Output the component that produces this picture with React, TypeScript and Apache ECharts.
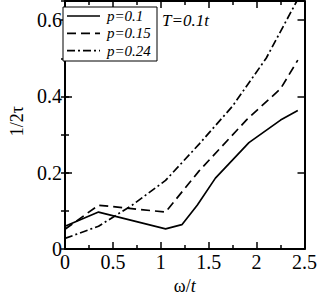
import React, { useEffect, useRef } from "react";
import * as echarts from "echarts";

const seriesNames = ["p=0.1", "p=0.15", "p=0.24"];
const p010: number[][] = [
  [0, 0.06], [0.35, 0.097], [1.05, 0.053], [1.22, 0.064], [1.38, 0.115],
  [1.57, 0.186], [1.92, 0.279], [2.25, 0.338], [2.43, 0.363],
];
const p015: number[][] = [
  [0, 0.052], [0.35, 0.115], [1.05, 0.097], [1.4, 0.205], [1.9, 0.34],
  [2.25, 0.42], [2.43, 0.495],
];
const p024: number[][] = [
  [0, 0.028], [0.35, 0.06], [0.7, 0.115], [1.05, 0.18], [1.4, 0.275],
  [1.75, 0.375], [2.1, 0.5], [2.42, 0.65],
];
const xMin = 0, xMax = 2.5, xStep = 0.5;
const yMin = 0, yMax = 0.65, yStep = 0.2, yMinorStep = 0.1;
const annotation = "T=0.1t";

const FONT = "Liberation Serif";

export default function App() {
  const ref = useRef<HTMLDivElement>(null);
  useEffect(() => {
    if (!ref.current) return;
    const chart = echarts.init(ref.current, undefined, { renderer: "svg" });
    const axisLine = { show: true, onZero: false, lineStyle: { color: "#000", width: 2 } };
    const fmtY = (v: number) => {
      const r = v / yStep;
      return Math.abs(r - Math.round(r)) < 1e-6 ? String(+v.toFixed(2)) : "";
    };
    const xCommon = {
      type: "value", min: xMin, max: xMax, interval: xStep,
      axisLine,
      axisTick: { show: true, inside: true, length: 7, lineStyle: { color: "#000", width: 1.5 } },
      minorTick: { show: true, splitNumber: 2, length: 4, lineStyle: { color: "#000", width: 1.5 } },
      splitLine: { show: false },
    };
    const yMajor = {
      type: "value", min: yMin, max: yMax, interval: yStep,
      axisLine,
      axisTick: { show: true, inside: true, length: 7, lineStyle: { color: "#000", width: 1.5 } },
      splitLine: { show: false },
    };
    const yMinor = {
      type: "value", min: yMin, max: yMax, interval: yMinorStep,
      axisLine: { show: false },
      axisTick: { show: true, inside: true, length: 4, lineStyle: { color: "#000", width: 1.5 } },
      axisLabel: { show: false },
      splitLine: { show: false },
    };
    const lineStyles: any[] = [
      { color: "#000", width: 1.7, type: "solid" },
      { color: "#000", width: 1.7, type: [9, 5] },
      { color: "#000", width: 1.7, type: [8, 3, 2, 3] },
    ];
    const datas = [p010, p015, p024];
    const legendBox = { x: 63, y: 7, w: 94, h: 54, row0: 16, rowGap: 17.3 };
    const legendGraphics: any[] = [
      {
        type: "rect", shape: { x: legendBox.x, y: legendBox.y, width: legendBox.w, height: legendBox.h },
        style: { fill: "#fff", stroke: "#000", lineWidth: 1 }, z: 100,
      },
    ];
    seriesNames.forEach((n, i) => {
      const y = legendBox.row0 + i * legendBox.rowGap;
      legendGraphics.push({
        type: "line", shape: { x1: 67, y1: y, x2: 100, y2: y },
        style: { stroke: "#000", lineWidth: lineStyles[i].width, lineDash: lineStyles[i].type === "solid" ? null : lineStyles[i].type },
        z: 101,
      });
      legendGraphics.push({
        type: "text", x: 107, y,
        style: { text: n, fontFamily: FONT, fontSize: 15, fontStyle: "italic", fill: "#000", verticalAlign: "middle" },
        z: 101,
      });
    });
    chart.setOption({
      animation: false,
      grid: { left: 48, right: 14, top: 1, bottom: 39, containLabel: false },
      xAxis: [
        {
          ...xCommon, position: "bottom",
          axisLabel: { show: true, color: "#000", fontFamily: FONT, fontSize: 20, margin: 3 },
          name: "{a|ω/}{b|t}", nameLocation: "middle", nameGap: 22,
          nameTextStyle: {
            rich: {
              a: { fontFamily: FONT, fontSize: 18, color: "#000" },
              b: { fontFamily: FONT, fontSize: 18, fontStyle: "italic", color: "#000" },
            },
          },
        },
        { ...xCommon, position: "top", axisLabel: { show: false } },
      ],
      yAxis: [
        {
          ...yMajor, position: "left",
          axisLabel: { show: true, color: "#000", fontFamily: FONT, fontSize: 20, margin: 3, formatter: fmtY },
          name: "1/2τ", nameLocation: "middle", nameGap: 39, nameRotate: 90,
          nameTextStyle: { fontFamily: FONT, fontSize: 18, color: "#000", padding: [0, 0, 0, 8] },
        },
        { ...yMinor, position: "left" },
        { ...yMajor, position: "right", axisLabel: { show: false } },
        { ...yMinor, position: "right" },
      ],
      graphic: [
        ...legendGraphics,
        {
          type: "text", x: 162, y: 20, z: 101,
          style: { text: annotation, fontFamily: FONT, fontSize: 17, fontStyle: "italic", fill: "#000", verticalAlign: "middle" },
        },
      ],
      series: datas.map((d, i) => ({
        type: "line", name: seriesNames[i], data: d,
        xAxisIndex: 0, yAxisIndex: 0,
        symbol: "none", showSymbol: false,
        lineStyle: lineStyles[i], itemStyle: { color: "#000" },
        clip: true,
      })),
    });
    return () => chart.dispose();
  }, []);
  return <div ref={ref} style={{ width: 320, height: 300, position: "absolute", left: 0, top: 0 }} />;
}
